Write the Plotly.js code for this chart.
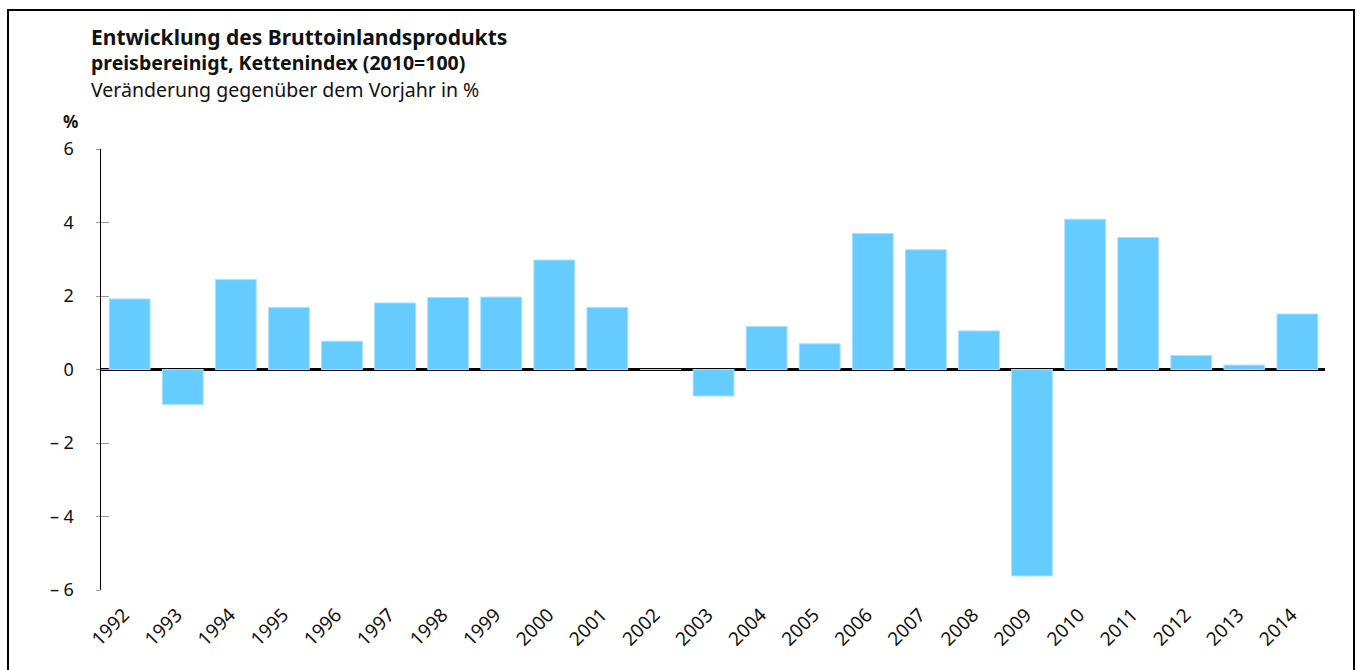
<!DOCTYPE html>
<html>
<head>
<meta charset="utf-8">
<script src="https://cdn.plot.ly/plotly-3.0.1.min.js"></script>
<style>
  html, body { margin: 0; padding: 0; background: #fff; overflow: hidden; }
  #wrap { position: relative; width: 1360px; height: 670px; }
  #frame { position: absolute; left: 7px; top: 9px; width: 1348px; height: 700px; border: 2px solid #000; box-sizing: border-box; pointer-events: none; z-index: 5; }
  #chart { position: absolute; left: 0; top: 0; width: 1360px; height: 670px; }
</style>
</head>
<body>
<div id="wrap">
  <div id="chart"></div>
  <div id="frame"></div>
</div>
<script>
const years = ["1992","1993","1994","1995","1996","1997","1998","1999","2000","2001","2002","2003","2004","2005","2006","2007","2008","2009","2010","2011","2012","2013","2014"];
const growth = [1.92, -0.95, 2.45, 1.69, 0.77, 1.81, 1.96, 1.97, 2.98, 1.69, 0.0, -0.72, 1.17, 0.70, 3.70, 3.26, 1.05, -5.62, 4.09, 3.59, 0.38, 0.12, 1.51];
const yTickVals = [6, 4, 2, 0, -2, -4, -6];
const yTickText = ["6", "4", "2", "0", "\u2013 2", "\u2013 4", "\u2013 6"];
const titleMain = "Entwicklung des Bruttoinlandsprodukts";
const titleSub1 = "preisbereinigt, Kettenindex (2010=100)";
const titleSub2 = "Veränderung gegenüber dem Vorjahr in %";
const unitLabel = "%";

const FONT = "Noto Sans, Open Sans, DejaVu Sans, sans-serif";

const trace = {
  type: "bar",
  x: years,
  y: growth,
  marker: { color: "#66CCFF", line: { color: "#A8E2FF", width: 1 } },
  hoverinfo: "x+y"
};

const tickTrace = { type: "scatter", mode: "markers", x: [years[0]], y: [0], yaxis: "y2",
  marker: { opacity: 0, size: 1 }, hoverinfo: "skip", showlegend: false };

const layout = {
  width: 1360,
  height: 670,
  margin: { l: 101, r: 35, t: 149, b: 80, pad: 0 },
  paper_bgcolor: "#ffffff",
  plot_bgcolor: "#ffffff",
  showlegend: false,
  bargap: 0.23,
  font: { family: FONT, color: "#111", size: 17 },
  xaxis: {
    type: "category",
    range: [-0.54, 22.52],
    showline: false,
    showgrid: false,
    zeroline: false,
    ticks: "",
    tickangle: -45,
    ticklabelstandoff: 9,
    ticklabelshift: -6,
    tickfont: { family: FONT, size: 19, color: "#111" },
    fixedrange: true
  },
  yaxis: {
    range: [-6, 6],
    tickvals: yTickVals,
    ticktext: yTickText,
    showgrid: false,
    showline: true,
    linecolor: "#000",
    linewidth: 1.5,
    zeroline: true,
    zerolinecolor: "#000",
    zerolinewidth: 3.5,
    layer: "above traces",
    ticks: "outside",
    ticklen: 4,
    tickcolor: "#999",
    tickwidth: 1,
    ticklabelstandoff: 18,
    tickfont: { family: FONT, size: 18, color: "#111" },
    fixedrange: true
  },
  yaxis2: {
    overlaying: "y",
    side: "left",
    anchor: "x",
    range: [-6, 6],
    tickvals: yTickVals,
    showticklabels: false,
    showgrid: false,
    showline: false,
    zeroline: false,
    ticks: "inside",
    ticklen: 8,
    tickcolor: "#999",
    tickwidth: 1,
    fixedrange: true
  },
  annotations: [
    { xref: "paper", yref: "paper", x: (89 - 101) / 1224, y: 1 + (149 - 37) / 441, xanchor: "left", yanchor: "middle",
      text: "<b>" + titleMain + "</b>", showarrow: false, font: { family: FONT, size: 21, color: "#111" } },
    { xref: "paper", yref: "paper", x: (89 - 101) / 1224, y: 1 + (149 - 63) / 441, xanchor: "left", yanchor: "middle",
      text: "<b>" + titleSub1 + "</b>", showarrow: false, font: { family: FONT, size: 19.5, color: "#111" } },
    { xref: "paper", yref: "paper", x: (89 - 101) / 1224, y: 1 + (149 - 89) / 441, xanchor: "left", yanchor: "middle",
      text: titleSub2, showarrow: false, font: { family: FONT, size: 19.5, color: "#111" } },
    { xref: "paper", yref: "paper", x: (80 - 101) / 1224, y: 1 + (149 - 121) / 441, xanchor: "right", yanchor: "middle",
      text: "<b>" + unitLabel + "</b>", showarrow: false, font: { family: FONT, size: 17, color: "#111" } }
  ]
};

Plotly.newPlot("chart", [trace, tickTrace], layout, { displayModeBar: false, staticPlot: true });
</script>
</body>
</html>
